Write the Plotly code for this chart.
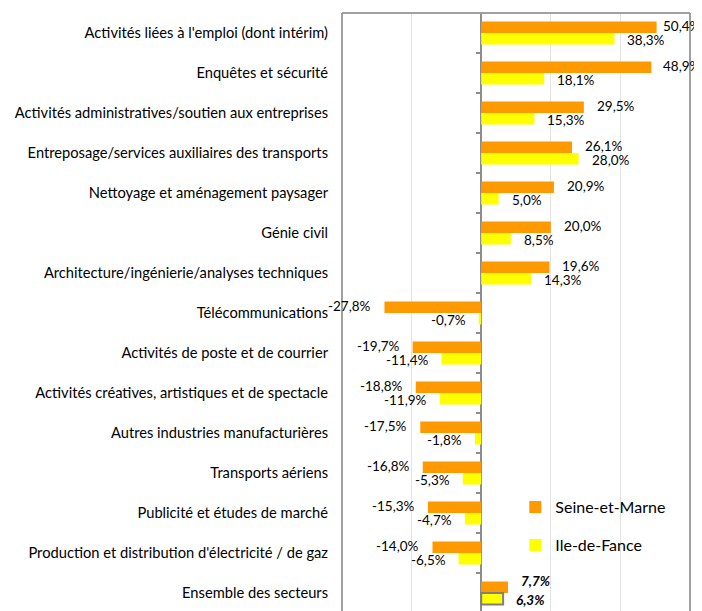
import plotly.graph_objects as go

# Evolution de l'emploi salarié par secteur (en %)
categories = [
    "Activités liées à l'emploi (dont intérim)",
    "Enquêtes et sécurité",
    "Activités administratives/soutien aux entreprises",
    "Entreposage/services auxiliaires des transports",
    "Nettoyage et aménagement paysager",
    "Génie civil",
    "Architecture/ingénierie/analyses techniques",
    "Télécommunications",
    "Activités de poste et de courrier",
    "Activités créatives, artistiques et de spectacle",
    "Autres industries manufacturières",
    "Transports aériens",
    "Publicité et études de marché",
    "Production et distribution d'électricité / de gaz",
    "Ensemble des secteurs",
]
seine_et_marne = [50.4, 48.9, 29.5, 26.1, 20.9, 20.0, 19.6, -27.8, -19.7, -18.8, -17.5, -16.8, -15.3, -14.0, 7.7]
ile_de_france = [38.3, 18.1, 15.3, 28.0, 5.0, 8.5, 14.3, -0.7, -11.4, -11.9, -1.8, -5.3, -4.7, -6.5, 6.3]

ORANGE = "#ff9900"
YELLOW = "#ffff00"
FONT = "Lato, 'Open Sans', sans-serif"

# the page body has an 8px margin, so the figure is drawn from (8, 8)
OFF = 8
W, H = 702 - OFF, 611 - OFF
ML, MR, MT = 342 - OFF, 12, 13 - OFF
XMIN, XMAX = -40, 60


def fmt(v):
    return f"{v:.1f}%".replace(".", ",")


n = len(categories)
last = n - 1
px_per_unit = (W - ML - MR) / (XMAX - XMIN)

fig = go.Figure()

fig.add_trace(go.Bar(
    y=categories, x=seine_et_marne, orientation="h", name="Seine-et-Marne",
    marker=dict(color=ORANGE, line=dict(width=0)), legendgroup="a",
))
fig.add_trace(go.Bar(
    y=categories, x=ile_de_france, orientation="h", name="Ile-de-Fance",
    marker=dict(color=YELLOW,
                line=dict(color="#7f7f7f", width=[0] * last + [2])),
    legendgroup="b",
))
# invisible trace so the tick axis at zero gets drawn
fig.add_trace(go.Scatter(x=[0], y=[0], yaxis="y2", mode="none",
                         showlegend=False, hoverinfo="skip"))

# value labels, kept inside the picture on the right like Excel does
label_w = 39
for series, shift in ((seine_et_marne, 7), (ile_de_france, -7)):
    for i, (cat, v) in enumerate(zip(categories, series)):
        txt = fmt(v)
        ys = shift
        if i == last:
            txt = f"<b><i>{txt}</i></b>"
            ys = shift + 5 if shift > 0 else shift
        if v >= 0:
            end_px = ML + (v - XMIN) * px_per_unit
            xs = min(11, W - 2 - label_w - end_px)
        else:
            xs = -11
        fig.add_annotation(
            x=v, y=cat, text=txt, showarrow=False,
            xanchor="left" if v >= 0 else "right",
            xshift=xs, yshift=ys,
            font=dict(size=13.5, color="#000000", family=FONT),
        )

# plot area frame (bottom is cropped)
for x0, y0, x1, y1 in ((0, 0, 0, 1), (1, 0, 1, 1), (0, 1, 1, 1)):
    fig.add_shape(type="line", xref="paper", yref="paper",
                  x0=x0, y0=y0, x1=x1, y1=y1,
                  line=dict(color="#a0a0a0", width=2))

yrange = [n - 0.55, -0.5]

fig.update_layout(
    width=W, height=H,
    margin=dict(l=ML, r=MR, t=MT, b=0, autoexpand=False),
    paper_bgcolor="white", plot_bgcolor="white",
    barmode="group", bargap=0.425, bargroupgap=0,
    font=dict(family=FONT, size=14.7, color="#000000"),
    showlegend=True,
    legend=dict(x=0.498, y=0.202, xanchor="left", yanchor="top",
                font=dict(size=16), tracegroupgap=14, itemwidth=30,
                bgcolor="rgba(0,0,0,0)"),
    xaxis=dict(range=[XMIN, XMAX], dtick=20, showticklabels=False,
               showgrid=True, gridcolor="#e3e3e3", gridwidth=1,
               zeroline=True, zerolinecolor="#8c8c8c", zerolinewidth=2,
               showline=False, fixedrange=True, automargin=False),
    yaxis=dict(type="category", categoryorder="array", categoryarray=categories,
               range=yrange, ticks="", showgrid=False, zeroline=False,
               ticklabelstandoff=13, tickfont=dict(size=14.7), automargin=False),
    yaxis2=dict(overlaying="y", anchor="free", position=0.4, side="left",
                range=yrange, tickvals=[i + 0.5 for i in range(n - 1)],
                ticks="outside", ticklen=5, tickwidth=1.5, tickcolor="#8c8c8c",
                showticklabels=False, showgrid=False, zeroline=False,
                showline=False, automargin=False),
)

fig.write_html("out.html")
